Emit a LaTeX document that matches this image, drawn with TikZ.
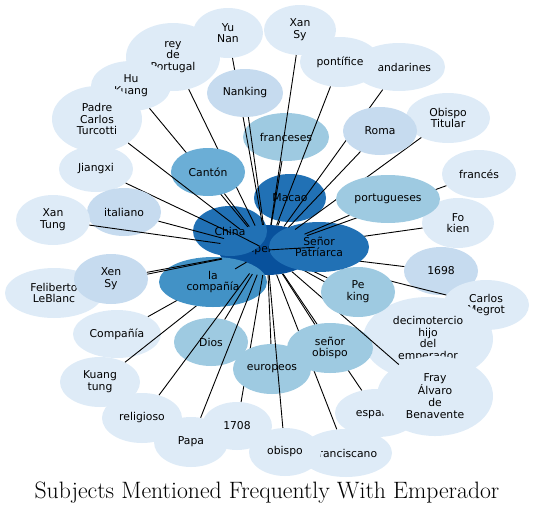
\documentclass[tikz,border=0pt]{standalone}
\usepackage{fontspec}
\usetikzlibrary{shapes.geometric}
\newfontfamily\lblfont{DejaVu Sans}
\definecolor{BlueA}{HTML}{DEEBF7}
\definecolor{BlueB}{HTML}{C6DBEF}
\definecolor{BlueC}{HTML}{9ECAE1}
\definecolor{BlueD}{HTML}{6BAED6}
\definecolor{BlueE}{HTML}{4292C6}
\definecolor{BlueF}{HTML}{2171B5}
\definecolor{BlueG}{HTML}{08519C}
\tikzset{
 subj/.style={ellipse,draw=none,inner sep=0pt,align=center,text=black,font=\lblfont\fontsize{10.8}{11.7}\selectfont},
 link/.style={draw=black,line width=0.9pt}
}
% one subject: name, x, y, width, height, colour, text; then its link to the centre
\newcommand{\subjnode}[7]{%
 \node[subj,fill=#6,minimum width=#4pt,minimum height=#5pt] (#1) at (#2,#3) {#7};
 \draw[link] (emp) -- (#1);}

\begin{document}
\begin{tikzpicture}[x=1pt,y=-1pt]
\useasboundingbox (0,0) rectangle (534,514);
\node[subj,fill=BlueG,minimum width=96pt,minimum height=50pt] (emp) at (267,250) {Emperador};
\subjnode{china}{230}{231}{74}{50}{BlueF}{China}
\subjnode{macao}{290}{198}{72}{48}{BlueF}{Macao}
\subjnode{franceses}{286}{137}{86}{48}{BlueC}{franceses}
\subjnode{yunan}{228}{33}{70}{50}{BlueA}{Yu\\Nan}
\subjnode{nanking}{245}{93}{76}{48}{BlueB}{Nanking}
\subjnode{rey}{173}{57}{94}{68}{BlueA}{rey\\de\\Portugal}
\subjnode{hukuang}{131}{86}{80}{50}{BlueA}{Hu\\Kuang}
\subjnode{canton}{208}{172}{74}{48}{BlueD}{Cantón}
\subjnode{padre}{97}{119}{90}{66}{BlueA}{Padre\\Carlos\\Turcotti}
\subjnode{jiangxi}{96}{169}{74}{46}{BlueA}{Jiangxi}
\subjnode{italiano}{124}{212}{74}{48}{BlueB}{italiano}
\subjnode{xantung}{53}{220}{74}{50}{BlueA}{Xan\\Tung}
\subjnode{compania}{117}{334}{88}{48}{BlueA}{Compañía}
\subjnode{kuangtung}{100}{382}{80}{50}{BlueA}{Kuang\\tung}
\subjnode{lacompania}{213}{282}{108}{50}{BlueE}{la\\compañía}
\subjnode{feliberto}{54}{293}{98}{50}{BlueA}{Feliberto\\LeBlanc}
\subjnode{xensy}{111}{279}{74}{50}{BlueB}{Xen\\Sy}
\subjnode{dios}{211}{342}{74}{48}{BlueC}{Dios}
\subjnode{religioso}{142}{418}{80}{50}{BlueA}{religioso}
\subjnode{papa}{191}{442}{74}{50}{BlueA}{Papa}
\subjnode{m1708}{237}{426}{70}{48}{BlueA}{1708}
\subjnode{europeos}{272}{369}{78}{50}{BlueC}{europeos}
\subjnode{franciscano}{346}{453}{92}{48}{BlueA}{franciscano}
\subjnode{obispo}{285}{452}{72}{48}{BlueA}{obispo}
\subjnode{espanol}{377}{413}{84}{48}{BlueA}{español}
\subjnode{m1698}{441}{271}{74}{48}{BlueB}{1698}
\subjnode{fokien}{458}{223}{72}{50}{BlueA}{Fo\\kien}
\subjnode{carlos}{486}{305}{86}{50}{BlueA}{Carlos\\Megrot}
\subjnode{decimo}{428}{339}{130}{84}{BlueA}{decimotercio\\hijo\\del\\emperador}
\subjnode{senorobispo}{330}{348}{86}{50}{BlueC}{señor\\obispo}
\subjnode{fray}{435}{396}{116}{80}{BlueA}{Fray\\Álvaro\\de\\Benavente}
\subjnode{peking}{358}{292}{74}{50}{BlueC}{Pe\\king}
\subjnode{senor}{319}{247}{100}{50}{BlueF}{Señor\\Patríarca}
\subjnode{frances}{479}{174}{74}{48}{BlueA}{francés}
\subjnode{obispotit}{448}{118}{84}{50}{BlueA}{Obispo\\Titular}
\subjnode{portugueses}{388}{199}{104}{48}{BlueC}{portugueses}
\subjnode{mandarines}{399}{67}{92}{48}{BlueA}{mandarines}
\subjnode{roma}{380}{131}{74}{48}{BlueB}{Roma}
\subjnode{pontifice}{340}{62}{80}{50}{BlueA}{pontífice}
\subjnode{xansy}{300}{30}{72}{50}{BlueA}{Xan\\Sy}
\node[font=\fontsize{23.7}{28}\selectfont,anchor=base] (title) at (267,498) {Subjects Mentioned Frequently With Emperador};
\end{tikzpicture}
\end{document}
